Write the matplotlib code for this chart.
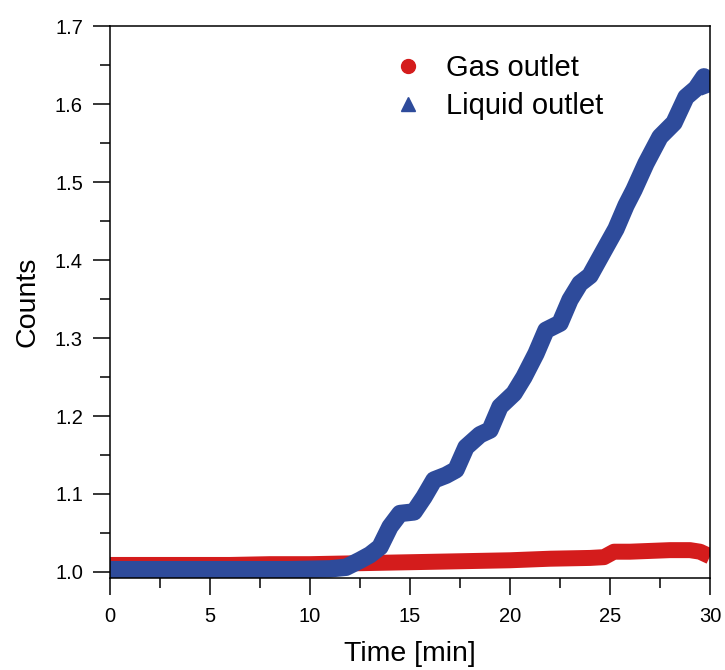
import matplotlib as mpl
import matplotlib.pyplot as plt
from matplotlib.lines import Line2D
from matplotlib.ticker import MultipleLocator

mpl.rc('font', family=['Liberation Sans', 'DejaVu Sans'])

# gas outlet (red)
t_gas = [0, 2, 4, 6, 8, 10, 12, 13, 14, 16, 18, 20, 22, 24, 24.7, 25.2, 26, 27, 28, 29, 29.5, 30]
v_gas = [1.009, 1.009, 1.009, 1.009, 1.010, 1.010, 1.011, 1.0115, 1.012, 1.013, 1.014, 1.015,
         1.017, 1.018, 1.019, 1.026, 1.026, 1.027, 1.028, 1.028, 1.026, 1.020]

# liquid outlet (blue)
t_liq = [0, 3, 6, 9, 11, 11.8, 12.5, 13.0, 13.5, 14.0, 14.5, 15.2, 15.7, 16.2, 16.8, 17.3, 17.8,
         18.5, 19.0, 19.5, 20.2, 20.7, 21.3, 21.8, 22.5, 23.0, 23.5, 24.0, 24.8, 25.3, 25.8, 26.2,
         26.8, 27.5, 28.2, 28.8, 29.3, 29.7, 30.0]
v_liq = [1.003, 1.003, 1.003, 1.003, 1.004, 1.006, 1.015, 1.022, 1.032, 1.058, 1.075, 1.077,
         1.096, 1.118, 1.124, 1.131, 1.160, 1.176, 1.182, 1.212, 1.229, 1.250, 1.280, 1.310,
         1.319, 1.349, 1.370, 1.380, 1.417, 1.440, 1.470, 1.490, 1.524, 1.558, 1.576, 1.609,
         1.620, 1.635, 1.615]

red = '#d41c1c'
blue = '#2e4b9b'

fig = plt.figure(figsize=(7.25, 6.7), dpi=100)
ax = fig.add_axes([0.1517, 0.137, 0.8276, 0.824])

ax.plot(t_gas, v_gas, c=red, lw=11.5, solid_capstyle='butt', solid_joinstyle='round')
ax.plot(t_liq, v_liq, c=blue, lw=12.5, solid_capstyle='butt', solid_joinstyle='round')

ax.set_xlim(0, 30)
ax.set_ylim(0.992, 1.7)
ax.xaxis.set_major_locator(MultipleLocator(5))
ax.xaxis.set_minor_locator(MultipleLocator(2.5))
ax.yaxis.set_major_locator(MultipleLocator(0.1))
ax.yaxis.set_minor_locator(MultipleLocator(0.05))
ax.yaxis.set_major_formatter(mpl.ticker.FormatStrFormatter('%.1f'))
ax.tick_params(which='major', direction='out', length=12.5, width=1.1, labelsize=14.5)
ax.tick_params(axis='x', which='major', pad=8)
ax.tick_params(axis='y', which='major', pad=7)
ax.tick_params(which='minor', direction='out', length=7, width=1.1)
for s in ax.spines.values():
    s.set_linewidth(1.1)

ax.set_xlabel('Time [min]', fontsize=20.5, va='center')
ax.xaxis.set_label_coords(0.5, -0.137)
ax.set_ylabel('Counts', fontsize=20.5, va='center')
ax.yaxis.set_label_coords(-0.137, 0.5)

handles = [
    Line2D([], [], ls='None', marker='o', ms=10, c=red, mec=red),
    Line2D([], [], ls='None', marker='^', ms=10, c=blue, mec=blue),
]
ax.legend(handles, ['Gas outlet', 'Liquid outlet'], loc='upper left',
          bbox_to_anchor=(0.428, 0.997), frameon=False, fontsize=21,
          handlelength=1.0, handletextpad=0.8, labelspacing=0.35)

plt.savefig('out.png', dpi=100)
